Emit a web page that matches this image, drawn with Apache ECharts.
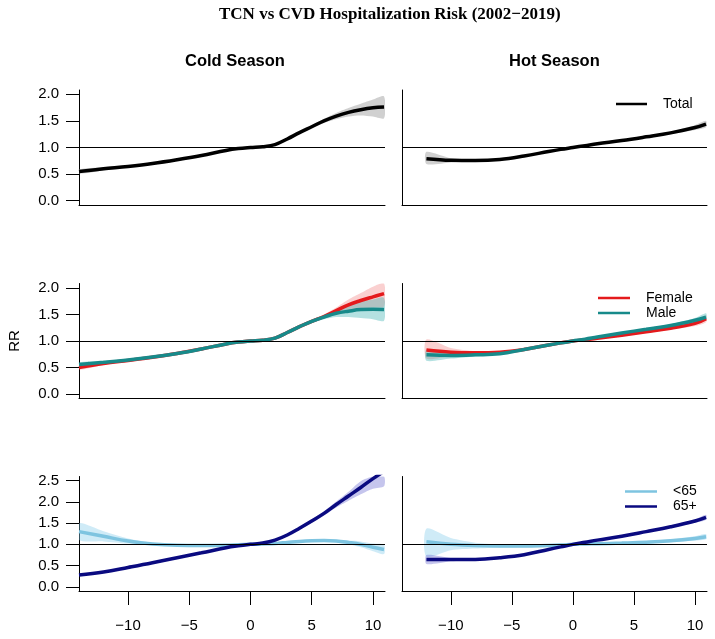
<!DOCTYPE html>
<html>
<head>
<meta charset="utf-8">
<script src="https://cdn.jsdelivr.net/npm/echarts@6/dist/echarts.min.js"></script>
<style>html,body{margin:0;padding:0;background:#fff;}#c{width:715px;height:639px;}</style>
</head>
<body>
<div id="c"></div>
<script>
// ---- data ----
const mainTitle = 'TCN vs CVD Hospitalization Risk (2002\u22122019)';
const columnTitles = ['Cold Season', 'Hot Season'];
const xTicks = [-10, -5, 0, 5, 10];
const yTicksRR = [0, 0.5, 1, 1.5, 2];
const yTicksAge = [0, 0.5, 1, 1.5, 2, 2.5];

const coldX = [-14,-12,-10,-8,-6,-4,-2,-1,0,1,2,3,4,5,6,7,8,9,10,10.9];
const hotX  = [-12,-10,-8,-6,-4,-2,-1,0,1,2,4,6,8,10,10.9];

// Total
const totalCold   = [0.55,0.60,0.645,0.70,0.77,0.85,0.945,0.98,1.0,1.015,1.055,1.16,1.28,1.39,1.50,1.59,1.66,1.71,1.745,1.76];
const totalColdLo = [0.51,0.57,0.625,0.69,0.76,0.84,0.935,0.975,1.0,1.01,1.045,1.145,1.26,1.36,1.46,1.53,1.58,1.60,1.58,1.55];
const totalColdHi = [0.59,0.63,0.665,0.71,0.78,0.86,0.955,0.99,1.0,1.02,1.065,1.175,1.30,1.42,1.54,1.65,1.74,1.82,1.90,1.96];
const totalHot    = [0.79,0.76,0.755,0.775,0.84,0.925,0.965,1.0,1.035,1.07,1.13,1.20,1.275,1.375,1.44];
const totalHotLo  = [0.69,0.72,0.735,0.76,0.83,0.92,0.96,1.0,1.03,1.06,1.115,1.18,1.25,1.33,1.38];
const totalHotHi  = [0.92,0.80,0.775,0.79,0.85,0.93,0.97,1.0,1.04,1.08,1.145,1.22,1.30,1.42,1.50];

// Sex
const femaleCold   = [0.50,0.575,0.635,0.695,0.765,0.85,0.945,0.98,1.0,1.015,1.055,1.16,1.27,1.37,1.46,1.57,1.68,1.76,1.83,1.89];
const femaleColdLo = [0.46,0.55,0.62,0.685,0.755,0.84,0.94,0.975,1.0,1.01,1.045,1.145,1.25,1.34,1.42,1.50,1.56,1.60,1.63,1.65];
const femaleColdHi = [0.54,0.60,0.65,0.705,0.775,0.86,0.95,0.985,1.0,1.02,1.065,1.175,1.29,1.40,1.50,1.63,1.78,1.90,2.02,2.12];
const maleCold     = [0.56,0.60,0.645,0.70,0.765,0.85,0.945,0.98,1.0,1.015,1.055,1.16,1.27,1.37,1.45,1.52,1.56,1.59,1.595,1.59];
const maleColdLo   = [0.52,0.58,0.635,0.69,0.755,0.84,0.94,0.975,1.0,1.01,1.045,1.145,1.25,1.34,1.41,1.45,1.45,1.43,1.41,1.38];
const maleColdHi   = [0.60,0.62,0.655,0.71,0.775,0.86,0.95,0.985,1.0,1.02,1.065,1.175,1.29,1.40,1.49,1.59,1.67,1.74,1.78,1.81];
const femaleHot    = [0.83,0.79,0.78,0.79,0.84,0.925,0.965,1.0,1.025,1.05,1.11,1.175,1.24,1.33,1.42];
const femaleHotLo  = [0.67,0.72,0.75,0.775,0.83,0.92,0.96,1.0,1.02,1.04,1.09,1.15,1.21,1.28,1.35];
const femaleHotHi  = [1.03,0.87,0.81,0.805,0.85,0.93,0.97,1.0,1.03,1.06,1.13,1.20,1.27,1.38,1.48];
const maleHot      = [0.74,0.73,0.74,0.76,0.84,0.925,0.965,1.0,1.035,1.075,1.15,1.22,1.29,1.39,1.45];
const maleHotLo    = [0.63,0.67,0.71,0.745,0.83,0.92,0.96,1.0,1.03,1.065,1.135,1.20,1.265,1.35,1.40];
const maleHotHi    = [0.84,0.78,0.765,0.775,0.85,0.93,0.97,1.0,1.04,1.085,1.165,1.24,1.315,1.43,1.52];

// Age
const youngCold   = [1.30,1.19,1.08,1.01,0.98,0.975,0.98,0.99,1.0,1.01,1.02,1.045,1.07,1.085,1.09,1.08,1.045,1.0,0.93,0.88];
const youngColdLo = [1.10,1.07,1.02,0.98,0.96,0.96,0.97,0.985,1.0,1.0,1.005,1.025,1.045,1.06,1.065,1.05,1.0,0.93,0.84,0.77];
const youngColdHi = [1.50,1.31,1.14,1.04,1.0,0.99,0.99,0.995,1.0,1.02,1.035,1.065,1.095,1.11,1.115,1.11,1.09,1.07,1.02,0.99];
const oldCold     = [0.275,0.35,0.455,0.565,0.685,0.80,0.92,0.965,1.0,1.03,1.10,1.22,1.38,1.55,1.73,1.94,2.14,2.34,2.55,2.72];
const oldColdLo   = [0.26,0.34,0.45,0.56,0.68,0.795,0.915,0.96,1.0,1.025,1.09,1.20,1.35,1.51,1.68,1.87,2.03,2.18,2.31,2.37];
const oldColdHi   = [0.29,0.36,0.46,0.57,0.69,0.805,0.925,0.97,1.0,1.035,1.11,1.24,1.41,1.59,1.78,2.01,2.24,2.49,2.75,2.98];
const youngHot    = [1.06,1.0,0.97,0.96,0.96,0.975,0.985,1.0,1.008,1.015,1.03,1.05,1.085,1.14,1.18];
const youngHotLo  = [0.71,0.86,0.90,0.92,0.93,0.955,0.97,1.0,1.0,1.0,1.01,1.02,1.05,1.09,1.12];
const youngHotHi  = [1.37,1.15,1.04,1.0,0.99,0.995,1.0,1.0,1.016,1.03,1.05,1.08,1.12,1.19,1.24];
const oldHot      = [0.645,0.64,0.645,0.685,0.755,0.88,0.94,1.0,1.05,1.10,1.19,1.30,1.415,1.55,1.635];
const oldHotLo    = [0.535,0.60,0.625,0.67,0.745,0.87,0.935,1.0,1.045,1.09,1.175,1.28,1.39,1.51,1.58];
const oldHotHi    = [0.75,0.68,0.665,0.70,0.765,0.89,0.945,1.0,1.055,1.11,1.205,1.32,1.44,1.59,1.70];

// ---- styles ----
const FONT = '"Liberation Sans", Arial, sans-serif';
const C = {
  Total:  {line:'#000000', band:'rgba(170,170,170,0.55)'},
  Female: {line:'#e41a1c', band:'rgba(240,120,120,0.35)'},
  Male:   {line:'#178a8a', band:'rgba(40,170,170,0.35)'},
  '<65':  {line:'#7ec4e0', band:'rgba(135,206,235,0.40)'},
  '65+':  {line:'#0a0a80', band:'rgba(110,110,210,0.40)'}
};

const gridsPos = [
  {left:79, top:90, width:306, height:115},
  {left:402, top:90, width:305, height:115},
  {left:79, top:283.5, width:306, height:115},
  {left:402, top:283.5, width:305, height:115},
  {left:79, top:476.5, width:306, height:114.5},
  {left:402, top:476.5, width:305, height:114.5}
];

const grid = gridsPos.map(g => Object.assign({containLabel:false}, g));
const xAxis = [], yAxis = [], series = [];
const axisLineStyle = {color:'#000', width:1};

gridsPos.forEach((g, i) => {
  const bottom = i >= 4;
  const left = i % 2 === 0;
  const ageRow = i >= 4;
  xAxis.push({
    type:'value', gridIndex:i, min:-14, max:10.98,
    axisLine:{show:true, onZero:false, lineStyle:axisLineStyle},
    axisTick:{show:bottom, inside:false, length:14, lineStyle:axisLineStyle, customValues:xTicks},
    axisLabel:{show:bottom, margin:27, fontSize:15, color:'#000', fontFamily:FONT,
      customValues:xTicks, formatter:v => String(v).replace('-', '\u2212')},
    splitLine:{show:false}
  });
  const yt = ageRow ? yTicksAge : yTicksRR;
  const ya = {
    type:'value', gridIndex:i, min: ageRow ? -0.1 : -0.08, max: ageRow ? 2.6 : 2.08,
    axisLine:{show:true, onZero:false, lineStyle:axisLineStyle},
    axisTick:{show:left, inside:false, length:13, lineStyle:axisLineStyle, customValues:yt},
    axisLabel:{show:left, margin:20, fontSize:15, color:'#000', fontFamily:FONT,
      customValues:yt, formatter:v => Number(v).toFixed(1)},
    splitLine:{show:false}
  };
  if (i === 2) {
    ya.name = 'RR'; ya.nameLocation = 'middle'; ya.nameGap = 57;
    ya.nameTextStyle = {fontSize:15, color:'#000', fontFamily:FONT};
  }
  yAxis.push(ya);
});

function bandSeries(idx, xs, lo, hi, color) {
  const data = xs.map((x, j) => [x, lo[j], hi[j]]);
  return {
    type:'custom', xAxisIndex:idx, yAxisIndex:idx, silent:true, clip:true, z:1,
    encode:{x:0, y:[1, 2]},
    data:data,
    renderItem:function(params, api) {
      if (params.dataIndex !== 0) return null;
      const up = data.map(d => api.coord([d[0], d[2]]));
      const dn = data.map(d => api.coord([d[0], d[1]])).reverse();
      const cs = params.coordSys;
      const rect = {x:cs.x, y:cs.y, width:cs.width, height:cs.height};
      const upC = echarts.graphic.clipPointsByRect(up, rect);
      const dnC = echarts.graphic.clipPointsByRect(dn, rect);
      return {
        type:'group',
        children:[{
          type:'polygon',
          shape:{points: upC.concat(dnC), smooth:0.25},
          style:{fill:color, stroke:null}
        }]
      };
    }
  };
}

function addPanel(idx, xs, groups) {
  groups.forEach(gr => series.push(bandSeries(idx, xs, gr.lo, gr.hi, C[gr.name].band)));
  groups.forEach((gr, k) => {
    const s = {
      type:'line', name:gr.name, xAxisIndex:idx, yAxisIndex:idx, smooth:0.4,
      showSymbol:false,
      color:C[gr.name].line, lineStyle:{color:C[gr.name].line, width:3.5}, z:3,
      data: xs.map((x, j) => [x, gr.v[j]])
    };
    if (k === 0) {
      s.markLine = {silent:true, symbol:'none', label:{show:false}, animation:false,
        lineStyle:{color:'#000', width:1, type:'solid'}, data:[{yAxis:1}]};
    }
    series.push(s);
  });
}

addPanel(0, coldX, [{name:'Total', v:totalCold, lo:totalColdLo, hi:totalColdHi}]);
addPanel(1, hotX,  [{name:'Total', v:totalHot, lo:totalHotLo, hi:totalHotHi}]);
addPanel(2, coldX, [{name:'Female', v:femaleCold, lo:femaleColdLo, hi:femaleColdHi},
                    {name:'Male', v:maleCold, lo:maleColdLo, hi:maleColdHi}]);
addPanel(3, hotX,  [{name:'Female', v:femaleHot, lo:femaleHotLo, hi:femaleHotHi},
                    {name:'Male', v:maleHot, lo:maleHotLo, hi:maleHotHi}]);
addPanel(4, coldX, [{name:'<65', v:youngCold, lo:youngColdLo, hi:youngColdHi},
                    {name:'65+', v:oldCold, lo:oldColdLo, hi:oldColdHi}]);
addPanel(5, hotX,  [{name:'<65', v:youngHot, lo:youngHotLo, hi:youngHotHi},
                    {name:'65+', v:oldHot, lo:oldHotLo, hi:oldHotHi}]);

function mkLegend(names, left, top, w) {
  return {
    data:names, orient:'vertical', left:left, top:top, padding:0, itemGap:0,
    icon:'rect', itemWidth:w, itemHeight:2.5, selectedMode:false,
    textStyle:{fontSize:14, color:'#000', fontFamily:FONT, lineHeight:15, padding:[0,0,0,11]}
  };
}

const option = {
  animation:false,
  backgroundColor:'#fff',
  title:[
    {text:mainTitle, left:219, top:6, padding:0,
     textStyle:{fontFamily:'"Liberation Serif", "Times New Roman", serif', fontWeight:'bold', fontSize:17, color:'#000'}},
    {text:columnTitles[0], left:185, top:53, padding:0,
     textStyle:{fontFamily:FONT, fontWeight:'bold', fontSize:16.5, color:'#000'}},
    {text:columnTitles[1], left:509, top:53, padding:0,
     textStyle:{fontFamily:FONT, fontWeight:'bold', fontSize:16.5, color:'#000'}}
  ],
  legend:[
    mkLegend(['Total'], 616, 96.5, 31),
    mkLegend(['Female','Male'], 598, 290.5, 32),
    mkLegend(['<65','65+'], 625, 484, 32)
  ],
  grid:grid, xAxis:xAxis, yAxis:yAxis, series:series
};

const chart = echarts.init(document.getElementById('c'), null, {renderer:'canvas'});
chart.setOption(option);
</script>
</body>
</html>
